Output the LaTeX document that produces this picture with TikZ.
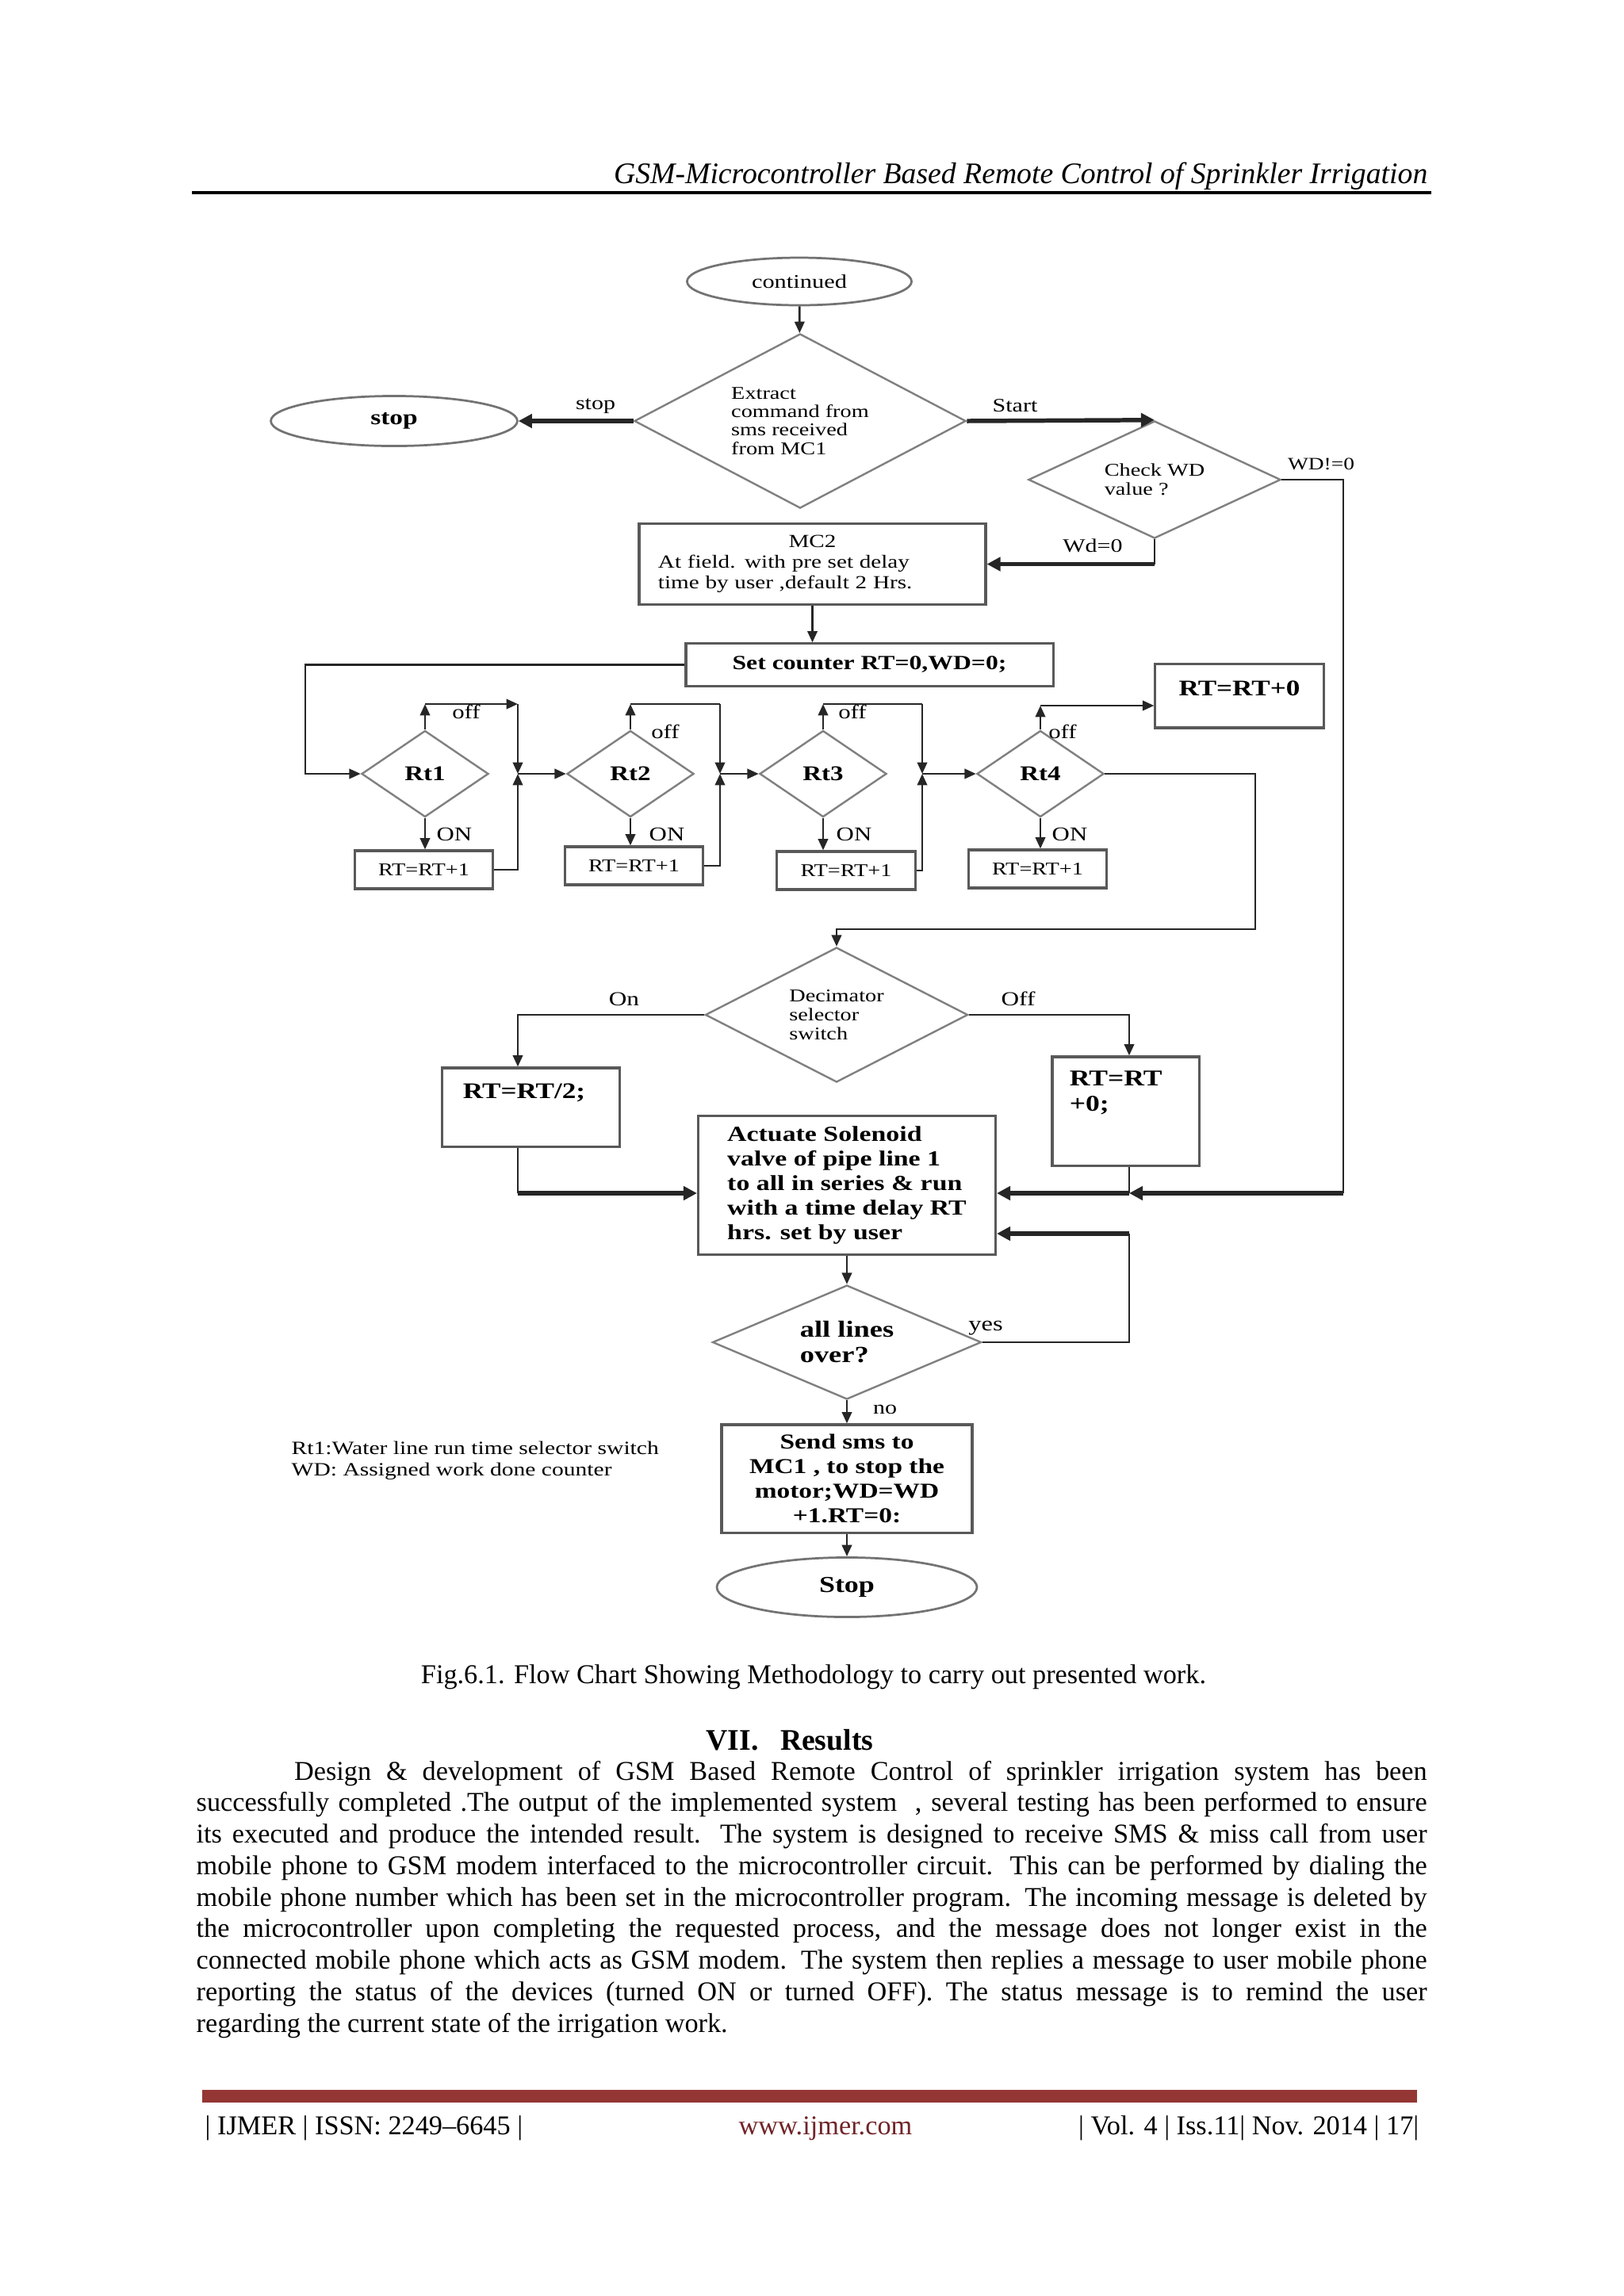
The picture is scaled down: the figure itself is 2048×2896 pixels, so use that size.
\documentclass[tikz,border=0pt]{standalone}
\usepackage{fontspec}
\setmainfont{Liberation Serif}
\newfontfamily\chartfont[FakeStretch=1.25]{Liberation Serif}
\usetikzlibrary{arrows.meta, shapes.geometric, positioning}
\definecolor{ijmerred}{RGB}{148,54,52}
\definecolor{ijmerlink}{RGB}{112,36,40}
\newcommand{\chsize}[2]{\chartfont\fontsize{#1}{#2}\selectfont}

\begin{document}
\begin{tikzpicture}[x=0.010254cm, y=-0.010254cm,
    term/.style={ellipse, draw=black!55, line width=0.8pt, inner sep=0pt},
    cond/.style={diamond, draw=black!50, line width=0.7pt, inner sep=0pt, aspect=1.9, align=left},
    sel/.style={cond, aspect=1.47, minimum width=46.7pt, minimum height=31.8pt, font=\chsize{7.7}{8}\bfseries},
    proc/.style={rectangle, draw=black!65, line width=0.9pt, inner sep=0pt},
    inc/.style={proc, minimum width=50.8pt, minimum height=14pt, font=\chsize{6.6}{7}},
    lbl/.style={inner sep=0pt, font=\chsize{7}{7}},
    wire/.style={draw=black!85, line width=0.8pt},
    flow/.style={wire, -{Triangle[length=4.2pt, width=3.6pt]}},
    heavy/.style={wire, line width=1.6pt, -{Triangle[length=5pt, width=5pt]}},
    page/.style={inner sep=0pt, font=\fontsize{10}{11.6}\selectfont}]

    \fill[white] (0,0) rectangle (2048,2896);
    \useasboundingbox (0,0) rectangle (2048,2896);

    % page header
    \node[page, anchor=base east, font=\fontsize{11}{13}\itshape] (head) at (1801,231) {GSM-Microcontroller Based Remote Control of Sprinkler Irrigation};
    \draw[line width=1pt] (242,243) -- (1805,243);

    % flow chart
    \node[term, minimum width=82.6pt, minimum height=17.5pt, font=\chsize{7.1}{8}] (cont) at (1008,355) {continued};
    \node[cond, minimum width=122pt, minimum height=64.2pt, font=\chsize{6.6}{6.8}] (extr) at (1009,531) {Extract\\command from\\sms received\\from MC1};
    \node[term, minimum width=90.7pt, minimum height=18.4pt, font=\chsize{7.8}{8}\bfseries] (halt) at (497,531) {stop};
    \node[cond, aspect=2.15, minimum width=92.8pt, minimum height=43.2pt, font=\chsize{6.6}{7}] (chkwd) at (1456,605) {Check WD\\value ?};
    \node[proc, minimum width=127.5pt, minimum height=30pt, text width=113.5pt, align=left, font=\chsize{6.8}{7.6}] (mc2) at (1024.5,711.5) {\hfill MC2\hfill\null\\At field. with pre set delay\\time by user ,default 2 Hrs.};
    \node[proc, minimum width=135.1pt, minimum height=15.5pt, font=\chsize{7.4}{8}\bfseries] (setc) at (1096.5,838.5) {Set counter RT=0,WD=0;};

    \node[sel] (rt1) at (536,976) {Rt1};
    \node[sel] (rt2) at (795,976) {Rt2};
    \node[sel] (rt3) at (1038,976) {Rt3};
    \node[sel] (rt4) at (1312,976) {Rt4};
    \node[inc] (b1) at (534.5,1097) {RT=RT+1};
    \node[inc] (b2) at (799.5,1092) {RT=RT+1};
    \node[inc] (b3) at (1067,1098) {RT=RT+1};
    \node[inc] (b4) at (1308.5,1096) {RT=RT+1};
    \node[proc, minimum width=61.9pt, text height=11.7pt, text depth=11.9pt, font=\chsize{8.2}{9}\bfseries] (rtzero) at (1563,877.5) {RT=RT+0};

    \node[cond, aspect=1.95, minimum width=96.6pt, minimum height=49.6pt, font=\chsize{6.6}{7}] (dcm) at (1055,1280) {Decimator\\selector\\switch};
    \node[proc, minimum width=65.1pt, text width=49.9pt, align=left, text height=11.1pt, text depth=17.8pt, font=\chsize{8.2}{9}\bfseries] (half) at (669.5,1396.5) {RT=RT/2;};
    \node[proc, minimum width=54pt, text width=41.2pt, align=left, text height=10.8pt, text depth=29.2pt, font=\chsize{8.3}{9.3}\bfseries] (keep) at (1419.5,1401.5) {RT=RT\\+0;};
    \node[proc, minimum width=109.4pt, minimum height=51.3pt, align=left, font=\chsize{7.9}{9}\bfseries] (act) at (1068,1495) {Actuate Solenoid\\valve of pipe line 1\\to all in series \& run\\with a time delay RT\\hrs. set by user};
    \node[cond, aspect=2.35, minimum width=98.9pt, minimum height=42pt, font=\chsize{8.5}{9.3}\bfseries] (alll) at (1068,1693) {all lines\\over?};
    \node[proc, minimum width=92.2pt, minimum height=39.7pt, align=center, font=\chsize{7.8}{9}\bfseries] (send) at (1068,1865) {Send sms to\\MC1 , to stop the\\motor;WD=WD\\+1.RT=0:};
    \node[term, minimum width=95.7pt, minimum height=21.9pt, font=\chsize{8.4}{9}\bfseries] (fin) at (1068,2002) {Stop};
    \node[lbl, anchor=west, align=left, font=\chsize{6.9}{7.9}] (legend) at (367,1842) {Rt1:Water line run time selector switch\\WD: Assigned work done counter};

    % branch labels
    \node[lbl] (lstop) at (751,512) {stop};
    \node[lbl] (lstart) at (1280,512) {Start};
    \node[lbl, font=\chsize{6.4}{7}] (lwdne) at (1666,585) {WD!=0};
    \node[lbl] (lwdeq) at (1378,688) {Wd=0};
    \node[lbl, font=\chsize{7.2}{8}] (off1) at (588,898) {off};
    \node[lbl, font=\chsize{7.2}{8}] (off2) at (839,923) {off};
    \node[lbl, font=\chsize{7.2}{8}] (off3) at (1075,898) {off};
    \node[lbl, font=\chsize{7.2}{8}] (off4) at (1340,923) {off};
    \node[lbl, font=\chsize{7.2}{8}] (on1) at (573,1052) {ON};
    \node[lbl, font=\chsize{7.2}{8}] (on2) at (841,1052) {ON};
    \node[lbl, font=\chsize{7.2}{8}] (on3) at (1077,1052) {ON};
    \node[lbl, font=\chsize{7.2}{8}] (on4) at (1349,1052) {ON};
    \node[lbl, font=\chsize{7.3}{8}] (lon) at (787,1260) {On};
    \node[lbl, font=\chsize{7.3}{8}] (loff) at (1284,1260) {Off};
    \node[lbl, font=\chsize{7.6}{8}] (lyes) at (1243,1675) {yes};
    \node[lbl] (lno) at (1116,1778) {no};

    % junction points
    \coordinate (loopL) at (385,976);
    \coordinate (jt1) at (653,888);
    \coordinate (jm1) at (653,976);
    \coordinate (jt2) at (908,888);
    \coordinate (jm2) at (908,976);
    \coordinate (jt3) at (1163,888);
    \coordinate (jm3) at (1163,976);
    \coordinate (top4) at (1312,890);
    \coordinate (rtout) at (1583,1172);
    \coordinate (wdR) at (1694,1505);
    \coordinate (mergeL) at (653,1505);
    \coordinate (mergeR) at (1424,1505);
    \coordinate (yesR) at (1424,1556);

    \draw[flow] (cont) -- (extr);
    \draw[heavy] (extr.west) -- (halt.east);
    \draw[heavy] (extr.east) -- (chkwd.north);
    \draw[wire] (chkwd.south) -- (chkwd.south |- mc2.east);
    \draw[heavy] (chkwd.south |- mc2.east) -- (mc2.east);
    \draw[flow] (mc2.south) -- (mc2.south |- setc.north);
    \draw[flow] (setc.west) -| (loopL) -- (rt1.west);

    \draw[flow] (rt1.north) -- (rt1.north |- jt1);
    \draw[flow] (rt1.north |- jt1) -- (jt1);
    \draw[flow] (jt1) -- (jm1);
    \draw[flow] (b1.east) -| (jm1);
    \draw[flow] (jm1) -- (rt2.west);
    \draw[flow] (rt1.south) -- (rt1.south |- b1.north);

    \draw[flow] (rt2.north) -- (rt2.north |- jt2);
    \draw[wire] (rt2.north |- jt2) -- (jt2);
    \draw[flow] (jt2) -- (jm2);
    \draw[flow] (b2.east) -| (jm2);
    \draw[flow] (jm2) -- (rt3.west);
    \draw[flow] (rt2.south) -- (rt2.south |- b2.north);

    \draw[flow] (rt3.north) -- (rt3.north |- jt3);
    \draw[wire] (rt3.north |- jt3) -- (jt3);
    \draw[flow] (jt3) -- (jm3);
    \draw[flow] (b3.east) -| (jm3);
    \draw[flow] (jm3) -- (rt4.west);
    \draw[flow] (rt3.south) -- (rt3.south |- b3.north);

    \draw[flow] (rt4.north) -- (top4);
    \draw[flow] (top4) -- (top4 -| rtzero.west);
    \draw[flow] (rt4.south) -- (rt4.south |- b4.north);
    \draw[flow] (rt4.east) -| (rtout) -| (dcm.north);

    \draw[flow] (dcm.west) -| (mergeL |- half.north);
    \draw[flow] (dcm.east) -| (mergeR |- keep.north);
    \draw[wire] (mergeL |- half.south) -- (mergeL);
    \draw[heavy] (mergeL) -- (mergeL -| act.west);
    \draw[wire] (mergeR |- keep.south) -- (mergeR);
    \draw[wire] (chkwd.east) -| (wdR);
    \draw[heavy] (wdR) -- (mergeR);
    \draw[heavy] (mergeR) -- (mergeR -| act.east);

    \draw[flow] (act.south) -- (alll.north);
    \draw[wire] (alll.east) -| (yesR);
    \draw[heavy] (yesR) -- (yesR -| act.east);
    \draw[flow] (alll.south) -- (send.north);
    \draw[flow] (send.south) -- (fin.north);

    % caption and text
    \node[page, anchor=base] (caption) at (1026,2123) {Fig.6.1. Flow Chart Showing Methodology to carry out presented work.};
    \node[page, anchor=base, font=\fontsize{11}{13}\bfseries] (results) at (996,2207) {VII.\hspace{8pt}Results};
    \node[page, anchor=base west, text width=452.8pt, align=justify] (body) at (247,2245) {\hspace*{36pt}Design \& development of GSM Based Remote Control of sprinkler irrigation system has been\linebreak
    successfully completed .The output of the implemented system\ \ , several testing has been performed to ensure\linebreak
    its executed and produce the intended result. The system is designed to receive SMS \& miss call from user\linebreak
    mobile phone to GSM modem interfaced to the microcontroller circuit. This can be performed by dialing the\linebreak
    mobile phone number which has been set in the microcontroller program. The incoming message is deleted by\linebreak
    the microcontroller upon completing the requested process, and the message does not longer exist in the\linebreak
    connected mobile phone which acts as GSM modem. The system then replies a message to user mobile phone\linebreak
    reporting the status of the devices (turned ON or turned OFF). The status message is to remind the user\linebreak
    regarding the current state of the irrigation work.};

    % page footer
    \fill[ijmerred] (255,2636) rectangle (1787,2652);
    \node[page, anchor=base west] (ftl) at (258,2692) {| IJMER | ISSN: 2249–6645 |};
    \node[page, anchor=base, text=ijmerlink] (ftc) at (1041,2692) {www.ijmer.com};
    \node[page, anchor=base east] (ftr) at (1790,2692) {| Vol. 4 | Iss.11| Nov. 2014 | 17|};
\end{tikzpicture}
\end{document}
